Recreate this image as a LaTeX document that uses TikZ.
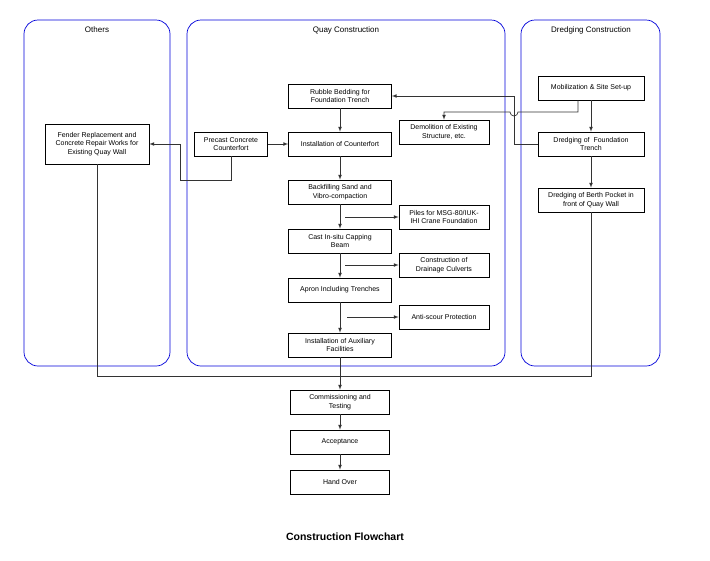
\documentclass[tikz,border=0pt]{standalone}
\usepackage{fontspec}
\setmainfont{Liberation Sans}
\begin{document}
\begin{tikzpicture}[x=1pt,y=-1pt,
 lane/.style={draw=blue!85!black,rounded corners=14pt,line width=0.7pt},
 box/.style={draw,line width=0.6pt,minimum height=24pt,align=center,font=\fontsize{7}{8.5}\selectfont,inner sep=1pt},
 ln/.style={draw,line width=0.7pt,black!80},
 ar/.style={ln,-latex},
 hd/.style={font=\fontsize{8}{9}\selectfont}]
\useasboundingbox (0,0) rectangle (710,560);
\draw[lane] (24,20) rectangle (170,366);
\draw[lane] (187,20) rectangle (505,366);
\draw[lane] (521,20) rectangle (660,366);
\node[hd] (h1) at (97,30) {Others};
\node[hd] (h2) at (346,30) {Quay Construction};
\node[hd] (h3) at (591,30) {Dredging Construction};

\node[box,minimum width=103pt] (rub) at (340,96) {Rubble Bedding for\\Foundation Trench};
\node[box,minimum width=90pt] (dem) at (444,132) {Demolition of Existing\\Structure, etc.};
\node[box,minimum width=106pt] (mob) at (591,88) {Mobilization \& Site Set-up};
\node[box,minimum width=103pt] (ins) at (340,144) {Installation of Counterfort};
\node[box,minimum width=73pt] (pre) at (231,144) {Precast Concrete\\Counterfort};
\node[box,minimum width=104pt,minimum height=40pt] (fen) at (97,144) {Fender Replacement and\\Concrete Repair Works for\\Existing Quay Wall};
\node[box,minimum width=106pt] (dft) at (591,144) {Dredging of\ \ Foundation\\Trench};
\node[box,minimum width=106pt] (bp) at (591,200) {Dredging of Berth Pocket in\\front of Quay Wall};
\node[box,minimum width=103pt] (bf) at (340,192) {Backfilling Sand and\\Vibro-compaction};
\node[box,minimum width=90pt] (pil) at (444,217) {Piles for MSG-80/IUK-\\IHI Crane Foundation};
\node[box,minimum width=103pt] (cast) at (340,241) {Cast In-situ Capping\\Beam};
\node[box,minimum width=90pt] (dr) at (444,265) {Construction of\\Drainage Culverts};
\node[box,minimum width=103pt] (apr) at (340,290) {Apron Including Trenches};
\node[box,minimum width=90pt] (as) at (444,317) {Anti-scour Protection};
\node[box,minimum width=103pt] (aux) at (340,345) {Installation of Auxiliary\\Facilities};
\node[box,minimum width=99pt] (com) at (340,402) {Commissioning and\\Testing};
\node[box,minimum width=99pt] (acc) at (340,442) {Acceptance};
\node[box,minimum width=99pt] (ho) at (340,482) {Hand Over};
\node[font=\bfseries\fontsize{10.5}{12}\selectfont] (t) at (345,537) {Construction Flowchart};

\draw[ar] (rub) -- (ins);
\draw[ar] (ins) -- (bf);
\draw[ar] (bf) -- (cast);
\draw[ar] (cast) -- (apr);
\draw[ar] (apr) -- (aux);
\draw[ar] (aux) -- (com);
\draw[ar] (com) -- (acc);
\draw[ar] (acc) -- (ho);
\draw[ar] (pre) -- (ins);
\draw[ar] (mob) -- (dft);
\draw[ar] (dft) -- (bp);
\coordinate (b1) at (345,217); \draw[ar] (b1) -- (pil.west);
\coordinate (b2) at (345,265); \draw[ar] (b2) -- (dr.west);
\coordinate (b3) at (347,317); \draw[ar] (b3) -- (as.west);
\draw[ar] (mob.south west -| 578,100) -- (578,112) -- (518,112) arc[start angle=0,end angle=180,radius=4] -- (444,112) -- (dem.north);
\draw[ar] (dft.west) -- (514,144) -- (514,96) -- (rub.east);
\draw[ar] (pre.south) -- (231,180) -- (180,180) -- (180,144) -- (fen.east);
\coordinate (j) at (340,376);
\draw[ln] (fen.south) -- (97,376) -- (591,376) -- (bp.south);
\end{tikzpicture}
\end{document}
